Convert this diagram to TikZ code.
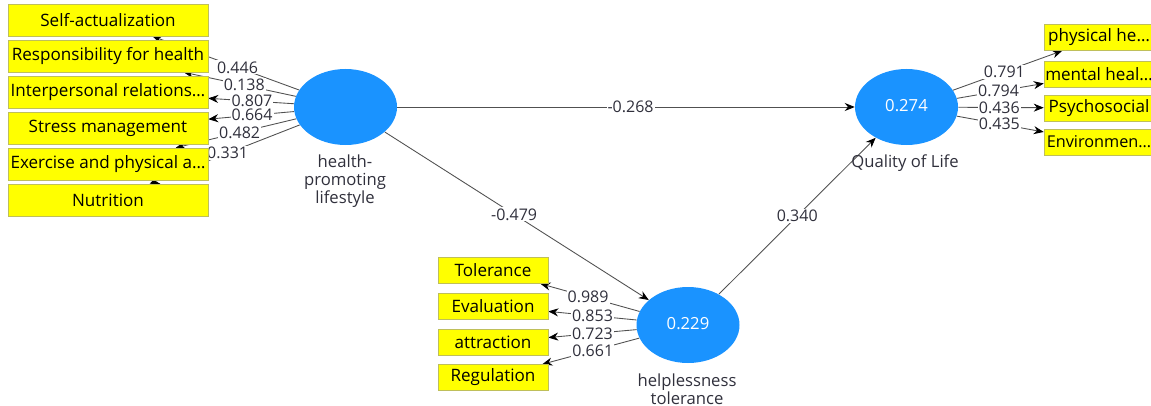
\documentclass[tikz,border=0pt]{standalone}
\usepackage{fontspec}
\setmainfont{Open Sans}
\usetikzlibrary{arrows.meta,shapes.geometric}
\pgfdeclarelayer{paper}
\pgfdeclarelayer{bg}
\pgfsetlayers{paper,bg,main}
\definecolor{boxyellow}{HTML}{FFFF00}
\definecolor{boxedge}{HTML}{BFBF5A}
\definecolor{lvblue}{HTML}{1A93FF}
\definecolor{txt}{HTML}{30303C}
\definecolor{linegray}{HTML}{505050}
\begin{document}
\begin{tikzpicture}[x=0.75pt,y=-0.75pt,
  bigbox/.style={draw=boxedge,fill=boxyellow,minimum width=150pt,minimum height=24pt,inner sep=0pt,font=\fontsize{12.8}{14}\selectfont,text=black},
  smallbox/.style={draw=boxedge,fill=boxyellow,minimum width=82.5pt,minimum height=19.5pt,inner sep=0pt,font=\fontsize{12.8}{14}\selectfont,text=black},
  latent/.style={ellipse,fill=lvblue,draw=none,minimum width=77.25pt,minimum height=57pt,inner sep=0pt,text=white,font=\fontsize{12.5}{14}\selectfont},
  lvname/.style={align=center,text=txt,font=\fontsize{12.5}{13.5}\selectfont,inner sep=0pt},
  conn/.style={draw=linegray,line width=0.65pt,-{Stealth[length=7.5pt,width=6pt,color=black]}},
  lbl/.style={fill=white,inner sep=0.8pt,text=txt,font=\fontsize{12}{13}\selectfont}]
\useasboundingbox (0,0) rectangle (1151,406);
\clip (0,0) rectangle (1151,406);
\begin{pgfonlayer}{paper}
\fill[white] (0,0) rectangle (1151,406);
\end{pgfonlayer}

% latent variables
\node[latent] (hpl) at (345.5,107) {};
\node[latent] (qol) at (906.5,107) {\raisebox{2pt}{0.274}};
\node[latent] (ht) at (688,325) {\raisebox{2pt}{0.229}};
\node[lvname] (hplname) at (345,181) {health-\\promoting\\lifestyle};
\node[lvname] (qolname) at (905,163) {Quality of Life};
\node[lvname] (htname) at (687,389) {helplessness\\tolerance};

% left indicator boxes
\node[bigbox] (sa) at (108,20) {Self-actualization};
\node[bigbox] (rh) at (108,56) {Responsibility for health};
\node[bigbox] (ir) at (108,92) {Interpersonal relations…};
\node[bigbox] (sm) at (108,128) {Stress management};
\node[bigbox] (ex) at (108,164) {Exercise and physical a…};
\node[bigbox] (nu) at (108,200) {Nutrition};

% bottom indicator boxes
\node[smallbox] (to) at (493,270.5) {Tolerance};
\node[smallbox] (ev) at (493,306) {Evaluation};
\node[smallbox] (at) at (493,342.5) {attraction};
\node[smallbox] (re) at (493,377.5) {Regulation};

% right indicator boxes
\node[smallbox] (ph) at (1099,37.5) {physical he…};
\node[smallbox] (mh) at (1099,74) {mental heal…};
\node[smallbox] (ps) at (1099,108) {Psychosocial};
\node[smallbox,font=\fontsize{12.2}{14}\selectfont] (en) at (1099,142) {Environmen…};

\begin{pgfonlayer}{bg}
% structural paths
\draw[conn] (hpl) -- node[lbl,pos=0.51]{-0.268} (qol);
\draw[conn] (hpl) -- node[lbl,pos=0.49]{-0.479} (ht);
\draw[conn] (ht) -- node[lbl,pos=0.5]{0.340} (qol);
% health-promoting lifestyle loadings
\draw[conn] (hpl) -- node[lbl,pos=0.42]{0.446} (sa);
\draw[conn] (hpl) -- node[lbl,pos=0.46]{0.138} (rh);
\draw[conn] (hpl) -- node[lbl,pos=0.49]{0.807} (ir);
\draw[conn] (hpl) -- node[lbl,pos=0.49]{0.664} (sm);
\draw[conn] (hpl) -- node[lbl,pos=0.47]{0.482} (ex);
\draw[conn] (hpl) -- node[lbl,pos=0.48]{0.331} (nu);
% quality of life loadings
\draw[conn] (qol) -- node[lbl,pos=0.47]{0.791} (ph);
\draw[conn] (qol) -- node[lbl,pos=0.48]{0.794} (mh);
\draw[conn] (qol) -- node[lbl,pos=0.48]{0.436} (ps);
\draw[conn] (qol) -- node[lbl,pos=0.49]{0.435} (en);
% helplessness tolerance loadings
\draw[conn] (ht) -- node[lbl,pos=0.52]{0.989} (to);
\draw[conn] (ht) -- node[lbl,pos=0.5]{0.853} (ev);
\draw[conn] (ht) -- node[lbl,pos=0.5]{0.723} (at);
\draw[conn] (ht) -- node[lbl,pos=0.48]{0.661} (re);
\end{pgfonlayer}
\end{tikzpicture}
\end{document}
